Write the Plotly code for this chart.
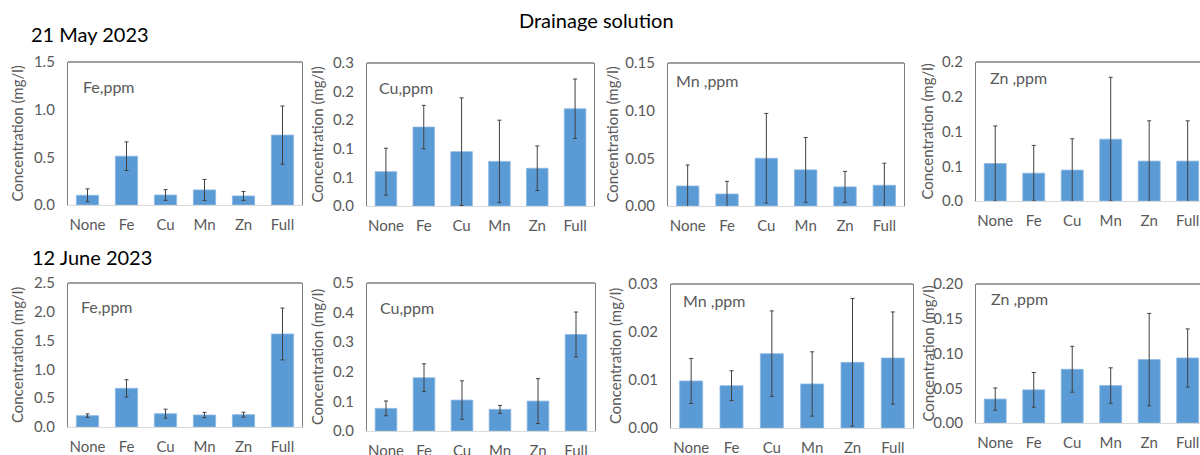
import plotly.graph_objects as go

categories = ["None", "Fe", "Cu", "Mn", "Zn", "Full"]

# 21 May 2023
may_fe = [0.102, 0.512, 0.105, 0.158, 0.095, 0.733]
may_fe_err = [0.067, 0.15, 0.056, 0.11, 0.047, 0.305]
may_cu = [0.060, 0.138, 0.095, 0.078, 0.066, 0.170]
may_cu_err = [0.041, 0.038, 0.094, 0.072, 0.039, 0.052]
may_mn = [0.021, 0.0126, 0.0501, 0.0379, 0.020, 0.0217]
may_mn_err = [0.022, 0.0133, 0.047, 0.034, 0.0163, 0.0232]
may_zn = [0.054, 0.040, 0.0445, 0.089, 0.0574, 0.0574]
may_zn_err = [0.054, 0.040, 0.045, 0.089, 0.058, 0.058]

# 12 June 2023
jun_fe = [0.197, 0.671, 0.231, 0.208, 0.214, 1.615]
jun_fe_err = [0.03, 0.15, 0.078, 0.046, 0.043, 0.45]
jun_cu = [0.0764, 0.180, 0.1045, 0.073, 0.101, 0.326]
jun_cu_err = [0.025, 0.047, 0.065, 0.0135, 0.076, 0.076]
jun_mn = [0.0098, 0.00882, 0.01549, 0.00917, 0.01368, 0.01458]
jun_mn_err = [0.0047, 0.0031, 0.0089, 0.0067, 0.0133, 0.0096]
jun_zn = [0.0344, 0.0477, 0.0773, 0.0539, 0.0912, 0.0936]
jun_zn_err = [0.016, 0.025, 0.033, 0.0255, 0.0665, 0.0418]

panel_labels = ["Fe,ppm", "Cu,ppm", "Mn ,ppm", "Zn ,ppm",
                "Fe,ppm", "Cu,ppm", "Mn ,ppm", "Zn ,ppm"]

# tick definitions
ticks = [
    ([0, 0.5, 1.0, 1.5], ["0.0", "0.5", "1.0", "1.5"], 1.5),
    ([0, 0.05, 0.1, 0.15, 0.2, 0.25], ["0.0", "0.1", "0.1", "0.2", "0.2", "0.3"], 0.25),
    ([0, 0.05, 0.1, 0.15], ["0.00", "0.05", "0.10", "0.15"], 0.15),
    ([0, 0.05, 0.1, 0.15, 0.2], ["0.0", "0.1", "0.1", "0.2", "0.2"], 0.2),
    ([0, 0.5, 1.0, 1.5, 2.0, 2.5], ["0.0", "0.5", "1.0", "1.5", "2.0", "2.5"], 2.5),
    ([0, 0.1, 0.2, 0.3, 0.4, 0.5], ["0.0", "0.1", "0.2", "0.3", "0.4", "0.5"], 0.5),
    ([0, 0.01, 0.02, 0.03], ["0.00", "0.01", "0.02", "0.03"], 0.03),
    ([0, 0.05, 0.1, 0.15, 0.2], ["0.00", "0.05", "0.10", "0.15", "0.20"], 0.2),
]

series = [(may_fe, may_fe_err), (may_cu, may_cu_err), (may_mn, may_mn_err), (may_zn, may_zn_err),
          (jun_fe, jun_fe_err), (jun_cu, jun_cu_err), (jun_mn, jun_mn_err), (jun_zn, jun_zn_err)]

W, H = 1200, 455
# pixel boxes: left, right, top, bottom
boxes = [
    (68, 302, 62, 205), (367, 594, 63, 206), (668, 904, 63, 206), (976, 1200, 62, 201),
    (68, 302, 283, 427), (367, 595, 283, 431), (671, 913, 284, 428), (976, 1200, 284, 423),
]
ytitle_x = [17, 317, 612, 927, 17, 317, 615, 927]
label_pos = [(81, 86), (377, 87), (674, 80), (988, 77), (79, 306), (378, 307), (681, 300), (989, 298)]

FONT = "Lato"
GREY = "#595959"

fig = go.Figure()
layout = dict(
    width=W, height=H, margin=dict(l=0, r=0, t=0, b=0, autoexpand=False),
    paper_bgcolor="white", plot_bgcolor="white", showlegend=False,
    font=dict(family=FONT, color=GREY, size=15),
)
annotations = []
shapes = []
for i, ((vals, errs), (tv, tt, ymax), (l, r, t, b)) in enumerate(zip(series, ticks, boxes)):
    n = i + 1
    xa = "x" if n == 1 else f"x{n}"
    ya = "y" if n == 1 else f"y{n}"
    fig.add_trace(go.Bar(
        x=categories, y=vals, xaxis=xa, yaxis=ya, width=0.57,
        marker=dict(color="#5B9BD5", line=dict(color="#8DB8E2", width=0.8)),
        error_y=dict(type="data", array=errs, visible=True, color="#404040", thickness=1, width=2),
    ))
    right_cut = r >= 1200
    xrange = [-0.5, 5.32] if right_cut else [-0.5, 5.5]
    layout[f"xaxis{'' if n == 1 else n}"] = dict(
        domain=[l / W, r / W], anchor=ya, range=xrange, automargin=False,
        showline=True, linecolor="#d9d9d9", linewidth=1, mirror=False,
        showgrid=False, ticks="", tickfont=dict(size=15, color=GREY, family=FONT),
        ticklabelstandoff=6, fixedrange=True,
    )
    layout[f"yaxis{'' if n == 1 else n}"] = dict(
        domain=[1 - b / H, 1 - t / H], anchor=xa, range=[0, ymax], automargin=False,
        tickvals=tv, ticktext=tt, showgrid=False, zeroline=False,
        showline=True, linecolor="#7f7f7f", linewidth=1.3, mirror=not right_cut,
        ticks="", ticklabelstandoff=9, tickfont=dict(size=15, color=GREY, family=FONT),
    )
    # top border
    shapes.append(dict(type="line", xref=f"{xa} domain", yref=f"{ya} domain",
                       x0=0, x1=1, y0=1, y1=1, line=dict(color="#7f7f7f", width=1.3)))
    annotations.append(dict(
        text="Concentration (mg/l)", textangle=-90, xref="paper", yref=f"{ya} domain",
        x=ytitle_x[i] / W, y=0.5, xanchor="center", yanchor="middle", showarrow=False,
        font=dict(size=15, color=GREY, family=FONT),
    ))
    lx, ly = label_pos[i]
    annotations.append(dict(
        text=panel_labels[i], xref="paper", yref="paper", x=lx / W, y=1 - ly / H,
        xanchor="left", yanchor="middle", showarrow=False,
        font=dict(size=16, color=GREY, family=FONT),
    ))

annotations.append(dict(text="Drainage solution", xref="paper", yref="paper",
                        x=596 / W, y=1 - 20 / H, xanchor="center", yanchor="middle",
                        showarrow=False, font=dict(size=20, color="#000000", family=FONT)))
annotations.append(dict(text="21 May 2023", xref="paper", yref="paper",
                        x=29 / W, y=1 - 34 / H, xanchor="left", yanchor="middle",
                        showarrow=False, font=dict(size=20, color="#000000", family=FONT)))
annotations.append(dict(text="12 June 2023", xref="paper", yref="paper",
                        x=30 / W, y=1 - 257 / H, xanchor="left", yanchor="middle",
                        showarrow=False, font=dict(size=20, color="#000000", family=FONT)))

layout["annotations"] = annotations
layout["shapes"] = shapes
fig.update_layout(**layout)
fig.write_html("out.html")
